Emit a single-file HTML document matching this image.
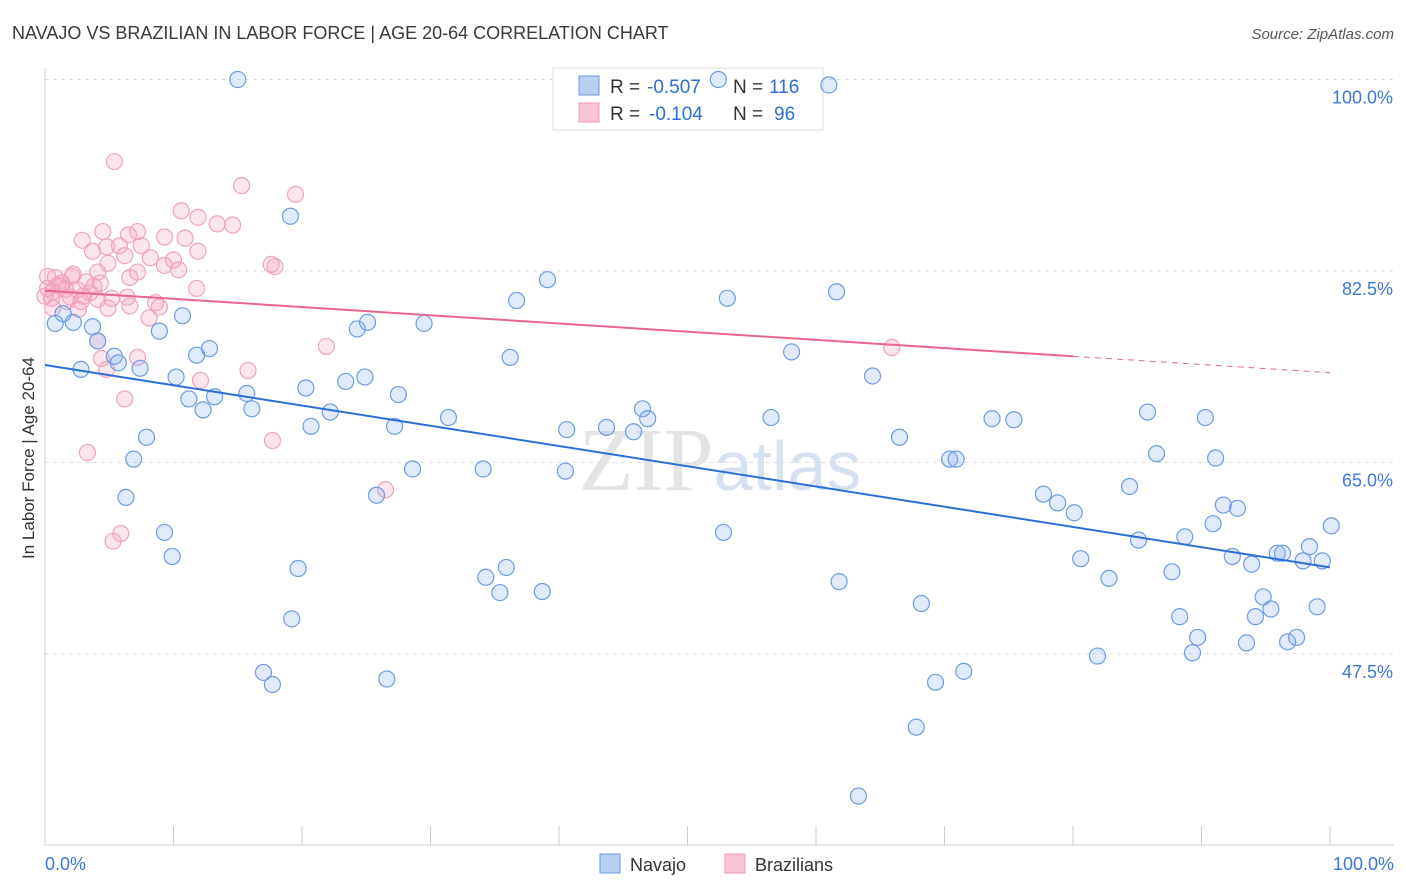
<!DOCTYPE html>
<html><head><meta charset="utf-8"><style>
body{margin:0;background:#fff;font-family:"Liberation Sans",sans-serif;}
#wrap{position:relative;width:1406px;height:892px;overflow:hidden;}
</style></head><body>
<div id="wrap">
<svg id="svg" width="1406" height="892" xmlns="http://www.w3.org/2000/svg">
<text x="12" y="39" font-size="18" fill="#3a3a3a">NAVAJO VS BRAZILIAN IN LABOR FORCE | AGE 20-64 CORRELATION CHART</text>
<text x="1394" y="39" font-size="15" fill="#555" text-anchor="end" font-style="italic">Source: ZipAtlas.com</text>
<text x="34" y="458" font-size="17" fill="#333" text-anchor="middle" transform="rotate(-90 34 458)">In Labor Force | Age 20-64</text>
<text x="720" y="490" font-size="90" fill="#e4e4e4" text-anchor="middle" font-family="Liberation Serif,serif">ZIP<tspan fill="#d6e2f2" font-family="Liberation Sans,sans-serif" font-size="70">atlas</tspan></text>
<g id="grid"></g><g id="axes"></g>
<g>
<rect x="553" y="68" width="270" height="62" fill="#fff" stroke="#ddd"/>
<rect x="579" y="76" width="20" height="19" fill="#b8d0f4" stroke="#6c9ade"/>
<rect x="579" y="103" width="20" height="19" fill="#f9c5d5" stroke="#ee9bb6"/>
<text x="610" y="93" font-size="19" fill="#333">R =</text>
<text x="647" y="93" font-size="19" fill="#2b6fd6">-0.507</text>
<text x="733" y="93" font-size="19" fill="#333">N =</text>
<text x="769" y="93" font-size="19" fill="#2b6fd6">116</text>
<text x="610" y="120" font-size="19" fill="#333">R =</text>
<text x="649" y="120" font-size="19" fill="#2b6fd6">-0.104</text>
<text x="733" y="120" font-size="19" fill="#333">N =</text>
<text x="774" y="120" font-size="19" fill="#2b6fd6">96</text>
</g>
<g id="pts"></g><g id="lines"></g>
<g>
<rect x="600" y="854" width="20" height="19" fill="#b8d0f4" stroke="#6c9ade"/>
<text x="630" y="871" font-size="18" fill="#333">Navajo</text>
<rect x="725" y="854" width="20" height="19" fill="#f9c5d5" stroke="#ee9bb6"/>
<text x="755" y="871" font-size="18" fill="#333">Brazilians</text>
</g>
</svg>
</div>
<script>
const yTicks=[47.5,65.0,82.5,100.0];
const yTickLabels=["47.5%","65.0%","82.5%","100.0%"];
const xTickLabels=["0.0%","100.0%"];
const navajoX=[15.0,52.4,61.0,19.1,39.1,36.7,53.1,61.6,0.8,2.2,1.4,3.7,4.1,10.7,8.9,24.3,25.1,29.5,12.8,11.8,5.4,5.7,7.4,2.8,10.2,11.2,12.3,13.2,15.7,16.1,20.3,23.4,24.9,27.5,22.2,20.7,27.2,31.4,36.2,58.1,64.4,7.9,6.9,6.3,9.3,9.9,19.7,19.2,17.0,17.7,26.6,25.8,28.6,34.1,34.3,35.9,35.4,38.7,40.5,40.6,43.7,45.8,46.5,46.9,52.8,56.5,61.8,66.5,68.2,70.4,70.9,69.3,71.5,67.8,63.3,73.7,75.4,77.7,78.8,80.1,80.6,81.9,82.8,84.4,85.1,85.8,86.5,87.7,88.3,88.7,89.7,89.3,90.3,90.9,91.1,91.7,92.8,92.4,93.5,93.9,94.2,94.8,95.4,95.9,96.3,96.7,97.4,97.9,98.4,99.0,99.4,100.1];
const navajoY=[100,100,99.5,87.5,81.7,79.8,80.0,80.6,77.7,77.8,78.6,77.4,76.1,78.4,77.0,77.2,77.8,77.7,75.4,74.8,74.7,74.1,73.6,73.5,72.8,70.8,69.8,71.0,71.3,69.9,71.8,72.4,72.8,71.2,69.6,68.3,68.3,69.1,74.6,75.1,72.9,67.3,65.3,61.8,58.6,56.4,55.3,50.7,45.8,44.7,45.2,62.0,64.4,64.4,54.5,55.4,53.1,53.2,64.2,68.0,68.2,67.8,69.9,69.0,58.6,69.1,54.1,67.3,52.1,65.3,65.3,44.9,45.9,40.8,34.5,69.0,68.9,62.1,61.3,60.4,56.2,47.3,54.4,62.8,57.9,69.6,65.8,55.0,50.9,58.2,49.0,47.6,69.1,59.4,65.4,61.1,60.8,56.4,48.5,55.7,50.9,52.7,51.6,56.7,56.7,48.6,49.0,56.0,57.3,51.8,56.0,59.2];
const brazX=[5.4,15.3,19.5,10.6,11.9,13.4,14.6,4.5,7.2,6.5,9.3,10.9,2.9,4.8,5.8,7.5,3.7,11.9,6.2,8.2,10.0,9.3,17.6,17.9,4.9,7.2,10.4,4.1,2.2,0.8,6.6,1.3,3.2,4.3,11.8,0.2,0.6,1.6,2.5,3.5,0.5,2.0,5.2,6.4,2.8,4.1,8.6,8.9,6.6,4.9,2.6,0.6,8.1,21.9,4.1,4.4,7.2,4.8,65.9,15.8,12.1,6.2,17.7,3.3,26.5,5.9,5.3,1.2,0.0,3.8,3.0,1.7,2.1,0.2,1.0];
const brazY=[92.5,90.3,89.5,88.0,87.4,86.8,86.7,86.1,86.1,85.8,85.6,85.5,85.3,84.7,84.8,84.8,84.3,84.3,83.9,83.7,83.5,83.0,83.1,82.9,83.2,82.4,82.6,82.4,82.2,81.9,81.9,81.4,81.5,81.4,80.9,80.9,80.6,80.8,80.8,80.5,80.0,80.1,80.0,80.1,79.7,79.9,79.6,79.2,79.3,79.1,79.0,79.1,78.2,75.6,76.1,74.5,74.6,73.5,75.5,73.4,72.5,70.8,67.0,65.9,62.5,58.5,57.8,81.1,80.2,81.1,80.2,79.7,82.0,82.0,81.2];
const navajoTrend=[[0,73.9],[100,55.4]];
const brazTrend=[[0,80.7],[80,74.7],[100,73.2]];
const X0=45,X1=1330,YB=845;
const sx=v=>X0+(X1-X0)*v/100;
const sy=v=>79.5+(100-v)*10.94;
const NS="http://www.w3.org/2000/svg";
function mk(t,a,p){const e=document.createElementNS(NS,t);for(const k in a)e.setAttribute(k,a[k]);p.appendChild(e);return e;}
const grid=document.getElementById('grid'),axes=document.getElementById('axes'),pts=document.getElementById('pts'),lines=document.getElementById('lines');
yTicks.forEach((t,i)=>{
 const l=mk('line',{x1:X0,x2:1394,y1:sy(t),y2:sy(t),stroke:'#ddd','stroke-dasharray':'4,4'},grid);
 
 
 const tx=mk('text',{x:1393,y:sy(t)+24,'text-anchor':'end','font-size':18,fill:'#3a78d8'},axes);
 tx.textContent=yTickLabels[i];
 
 
});
const ax=mk('line',{x1:X0,x2:1394,y1:YB,y2:YB,stroke:'#ccc'},axes);


const ay=mk('line',{x1:X0,x2:X0,y1:68,y2:YB,stroke:'#ccc'},axes);


for(let i=0;i<=10;i++){
 const t=mk('line',{x1:sx(i*10),x2:sx(i*10),y1:826,y2:YB,stroke:'#ccc'},axes);
 
 
}
[[0,'start',45],[1,'end',1394]].forEach(([i,a,x])=>{
 const tx=mk('text',{x:x,y:870,'text-anchor':a,'font-size':18,fill:'#3a78d8'},axes);
 tx.textContent=xTickLabels[i];
 
 
});
brazX.forEach((v,i)=>{
 const c=mk('circle',{cx:sx(v),cy:sy(brazY[i]),r:8,fill:'rgba(245,160,190,0.28)',stroke:'#f0a3bd','stroke-width':1.2},pts);
 
 
});
navajoX.forEach((v,i)=>{
 const c=mk('circle',{cx:sx(v),cy:sy(navajoY[i]),r:8,fill:'rgba(130,170,235,0.25)',stroke:'#6d9ce0','stroke-width':1.2},pts);
 
 
});
const nl=mk('line',{x1:sx(navajoTrend[0][0]),y1:sy(navajoTrend[0][1]),x2:sx(navajoTrend[1][0]),y2:sy(navajoTrend[1][1]),stroke:'#2b6fd6','stroke-width':2},lines);


const bl=mk('line',{x1:sx(brazTrend[0][0]),y1:sy(brazTrend[0][1]),x2:sx(brazTrend[1][0]),y2:sy(brazTrend[1][1]),stroke:'#e8668f','stroke-width':2},lines);


const bd=mk('line',{x1:sx(brazTrend[1][0]),y1:sy(brazTrend[1][1]),x2:sx(brazTrend[2][0]),y2:sy(brazTrend[2][1]),stroke:'#e8668f','stroke-width':1,'stroke-dasharray':'6,5'},lines);


</script>
</body></html>
